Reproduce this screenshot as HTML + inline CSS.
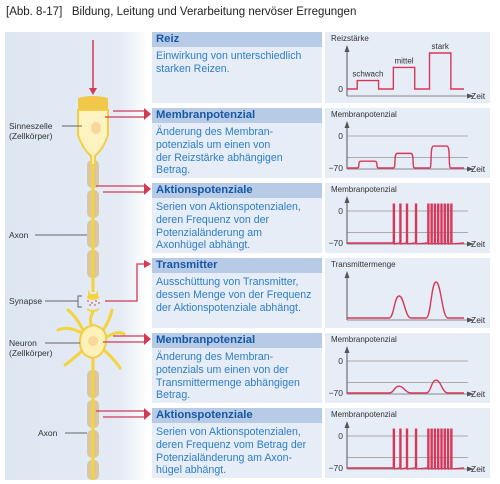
<!DOCTYPE html>
<html><head><meta charset="utf-8">
<style>
body{margin:0;background:#fff;font-family:"Liberation Sans",sans-serif;}
#wrap{position:relative;width:500px;height:484px;overflow:hidden;}
.title{position:absolute;left:6px;top:6px;font-size:11.5px;color:#222;}
.box{position:absolute;left:152px;width:170px;background:#e6edf7;}
.hd{background:#b8cbe6;color:#1558a6;font-weight:bold;font-size:11.3px;padding:1px 4px;height:13px;line-height:13px;}
.tx{color:#2d7ec8;font-size:10.6px;line-height:12.8px;padding:3px 4px;white-space:nowrap;}
.lbl{position:absolute;font-size:8.5px;color:#333;line-height:10px;}
</style></head><body>
<div id="wrap">
<div class="title">[Abb. 8-17]&nbsp;&nbsp; Bildung, Leitung und Verarbeitung nervöser Erregungen</div>
<svg width="500" height="484" style="position:absolute;left:0;top:0">
<defs><linearGradient id="lg" x1="0" x2="1"><stop offset="0" stop-color="#dde6f2"/><stop offset="0.8" stop-color="#e4ebf5"/><stop offset="1" stop-color="#fff"/></linearGradient></defs>
<rect x="5" y="32" width="143" height="448" fill="url(#lg)"/>
<g fill="#d8c6a4">
<rect x="87" y="160" width="12" height="28" rx="5"/><rect x="87" y="190" width="12" height="28" rx="5"/><rect x="87" y="220" width="12" height="28" rx="5"/><rect x="87" y="250" width="12" height="28" rx="5"/>
<rect x="87" y="370" width="12" height="28" rx="5"/><rect x="87" y="400" width="12" height="28" rx="5"/><rect x="87" y="430" width="12" height="28" rx="5"/><rect x="87" y="460" width="12" height="20" rx="5"/>
</g>
<line x1="93" y1="140" x2="93" y2="292" stroke="#f5d33a" stroke-width="3"/>
<line x1="93" y1="345" x2="93" y2="480" stroke="#f5d33a" stroke-width="3"/>
<path d="M78 98 Q93 94 108 98 L108 112 L78 112Z" fill="#f2c84a"/>
<path d="M78 110 L108 110 L108 135 Q104 148 95 156 L95 165 L91 165 L91 156 Q82 148 78 135Z" fill="#fdf3c0" stroke="#f3cd45" stroke-width="2"/>
<ellipse cx="96" cy="128" rx="5" ry="6" fill="#f9d79a"/>
<line x1="93" y1="40" x2="93" y2="92" stroke="#d33a55" stroke-width="1.5"/>
<path d="M89 88 L97 88 L93 95Z" fill="#d33a55"/>
<path d="M88 290 Q93 300 98 290 L98 295 Q93 303 88 295Z" fill="#f5d33a"/>
<ellipse cx="93" cy="297" rx="6" ry="3" fill="#f5d33a"/>
<g fill="#e07a8a"><circle cx="88" cy="301" r="1"/><circle cx="92" cy="303" r="1"/><circle cx="96" cy="301" r="1"/><circle cx="99" cy="303" r="1"/><circle cx="90" cy="305" r="1"/><circle cx="95" cy="305" r="1"/></g>
<path d="M87 308 Q93 312 99 308 L99 310 Q93 314 87 310Z" fill="#f5d33a"/>
<g stroke="#f5d33a" stroke-width="3" fill="none" stroke-linecap="round">
<path d="M93 312 Q88 320 93 330"/><path d="M85 335 Q70 325 58 330"/><path d="M83 330 Q75 315 68 310"/><path d="M102 332 Q110 320 112 310"/><path d="M105 338 Q118 330 124 334"/><path d="M104 350 Q115 360 120 368"/><path d="M83 350 Q72 360 65 365"/>
</g>
<path d="M93 325 Q108 328 106 342 Q104 356 93 358 Q80 356 80 342 Q80 328 93 325Z" fill="#fdf0b8" stroke="#f3cd45" stroke-width="2"/>
<circle cx="93" cy="341" r="5" fill="#f9d79a"/>
<g stroke="#666" stroke-width="1" fill="none">
<line x1="62" y1="126" x2="82" y2="126"/><line x1="35" y1="235" x2="87" y2="235"/><line x1="45" y1="301" x2="78" y2="301"/><path d="M82 296 L78 296 L78 307 L82 307"/><line x1="45" y1="343" x2="80" y2="343"/><line x1="65" y1="433" x2="87" y2="433"/>
</g>
<g stroke="#d33a55" stroke-width="1.3" fill="none">
<path d="M113 111 L145 111"/><path d="M105 117 L145 117"/>
<path d="M96 186 L145 186"/><path d="M103 192 L145 192"/>
<path d="M105 301 L137 301 L137 264 L145 264"/>
<path d="M113 336 L145 336"/><path d="M103 342 L145 342"/>
<path d="M96 411 L145 411"/><path d="M103 417 L145 417"/>
</g>
<g fill="#d33a55"><path d="M144 108 L151 114 L144 120Z"/><path d="M144 183 L151 189 L144 195Z"/><path d="M144 260 L151 264 L144 268Z"/><path d="M144 333 L151 339 L144 345Z"/><path d="M144 408 L151 414 L144 420Z"/></g>
<g id="charts"></g>
</svg>
<div class="lbl" style="left:9px;top:121px">Sinneszelle<br>(Zellkörper)</div>
<div class="lbl" style="left:9px;top:230px">Axon</div>
<div class="lbl" style="left:9px;top:296px">Synapse</div>
<div class="lbl" style="left:9px;top:338px">Neuron<br>(Zellkörper)</div>
<div class="lbl" style="left:38px;top:428px">Axon</div>

<div class="box" style="top:32px;height:71px"><div class="hd">Reiz</div><div class="tx">Einwirkung von unterschiedlich<br>starken Reizen.</div></div>
<div class="box" style="top:108px;height:70px"><div class="hd">Membranpotenzial</div><div class="tx">Änderung des Membran-<br>potenzials um einen von<br>der Reizstärke abhängigen<br>Betrag.</div></div>
<div class="box" style="top:183px;height:70px"><div class="hd">Aktionspotenziale</div><div class="tx">Serien von Aktionspotenzialen,<br>deren Frequenz von der<br>Potenzialänderung am<br>Axonhügel abhängt.</div></div>
<div class="box" style="top:258px;height:70px"><div class="hd">Transmitter</div><div class="tx">Ausschüttung von Transmitter,<br>dessen Menge von der Frequenz<br>der Aktionspotenziale abhängt.</div></div>
<div class="box" style="top:333px;height:70px"><div class="hd">Membranpotenzial</div><div class="tx">Änderung des Membran-<br>potenzials um einen von der<br>Transmittermenge abhängigen<br>Betrag.</div></div>
<div class="box" style="top:408px;height:70px"><div class="hd">Aktionspotenziale</div><div class="tx">Serien von Aktionspotenzialen,<br>deren Frequenz vom Betrag der<br>Potenzialänderung am Axon-<br>hügel abhängt.</div></div>
</div>
<script>
const stimulusLabels = ["schwach","mittel","stark"];
const stimulusLevels = [0.7, 1.8, 3];
const stimulusStart = [0.5, 2.7, 4.9];
const potLevels1 = [-55, -38, -22];
const spikeTimes = [2.7, 3.1, 3.5, 4.05, 4.8, 5.0, 5.2, 5.4, 5.6, 5.8, 6.0, 6.2];
const transmitterPeaks = [3.05, 5.3];
const transmitterAmounts = [22, 36];
const potPeaks2 = [-55, -42];
const tickLabels = ["0", "-70"];

const NS = "http://www.w3.org/2000/svg";
const g = document.getElementById("charts");
const tops = [32,108,183,258,333,408];
const X0 = 347, X1 = 468;
function xs(t){ return 349 + t/7*115; }
function mk(tag, attrs, parent){ const e=document.createElementNS(NS,tag); for(const k in attrs) e.setAttribute(k,attrs[k]); (parent||g).appendChild(e); return e; }
function txt(x,y,s,anchor,size){ const e=mk("text",{x:x,y:y,"font-size":size||8.5,fill:"#333","font-family":"Liberation Sans, sans-serif","text-anchor":anchor||"start"}); e.textContent=s; return e; }

tops.forEach((top,i)=>{
  const p = mk("rect",{x:325,y:top,width:165,height:i==0?71:70,fill:"#e6edf7"});
  
  
  const titles=["Reizstärke","Membranpotenzial","Membranpotenzial","Transmittermenge","Membranpotenzial","Membranpotenzial"];
  const t = txt(331, top+9, titles[i]); t.setAttribute("font-size","8");
  const axisY = i==0? top+64 : (i==3? top+62 : top+61);
  const isPot = (i==1||i==2||i==4||i==5);
  const y0 = top+28, y70 = top+60;
  const ys = v => y70 - (v+70)/70*(y70-y0);
  if(isPot){
    [0,-47].forEach(v=>mk("line",{x1:X0,x2:X1,y1:ys(v),y2:ys(v),stroke:"#aaa","stroke-width":1}));
    txt(343, ys(0)+3, tickLabels[0], "end");
    txt(343, ys(-70)+3, tickLabels[1].replace("-","−"), "end");
  }
  mk("line",{x1:X0,x2:X0,y1:top+16,y2:axisY,stroke:"#555","stroke-width":1});
  mk("path",{d:`M${X0-2.5} ${top+20} L${X0} ${top+13} L${X0+2.5} ${top+20}Z`,fill:"#555"});
  mk("line",{x1:X0,x2:X1,y1:axisY,y2:axisY,stroke:"#888","stroke-width":1});
  mk("path",{d:`M${X1-1} ${axisY-2.5} L${X1+6} ${axisY} L${X1-1} ${axisY+2.5}Z`,fill:"#555"});
  txt(471, axisY+3, "Zeit");
  let d="";
  if(i==0){
    const yb = top+57, ysc = v=>yb - v*12;
    txt(343, yb+3, "0", "end");
    d=`M${X0} ${yb}`;
    stimulusLevels.forEach((v,k)=>{ const a=xs(stimulusStart[k]), b=xs(stimulusStart[k]+1.3);
      d+=` L${a} ${yb} L${a} ${ysc(v)} L${b} ${ysc(v)} L${b} ${yb}`;
      txt((a+b)/2, ysc(v)-4, stimulusLabels[k], "middle", 8); });
    d+=` L${xs(7)} ${yb}`;
  } else if(i==1){
    d=`M${X0} ${ys(-70)}`;
    potLevels1.forEach((v,k)=>{ const a=xs(stimulusStart[k]), b=xs(stimulusStart[k]+1.3);
      d+=` L${a} ${ys(-70)} C${a+3} ${ys(-70)} ${a} ${ys(v)} ${a+4} ${ys(v)} L${b-4} ${ys(v)} C${b} ${ys(v)} ${b-3} ${ys(-70)} ${b} ${ys(-70)}`; });
    d+=` L${xs(7)} ${ys(-70)}`;
  } else if(i==2||i==5){
    d=`M${X0} ${ys(-70)}`;
    spikeTimes.forEach(t=>{ const x=xs(t); d+=` L${x} ${ys(-70)} L${x} ${ys(15)} L${x+1} ${ys(15)} L${x+1} ${ys(-72)}`; });
    d+=` L${xs(7)} ${ys(-70)}`;
  } else if(i==3){
    const yb=top+60;
    d=`M${X0} ${yb}`;
    transmitterPeaks.forEach((t,k)=>{ const x=xs(t), h=transmitterAmounts[k];
      d+=` L${x-10} ${yb} C${x-5} ${yb} ${x-5} ${yb-h} ${x} ${yb-h} C${x+5} ${yb-h} ${x+6} ${yb} ${x+12} ${yb}`; });
    d+=` L${xs(7)} ${yb}`;
  } else {
    d=`M${X0} ${ys(-70)}`;
    potPeaks2.forEach((v,k)=>{ const x=xs(transmitterPeaks[k]);
      d+=` L${x-10} ${ys(-70)} C${x-5} ${ys(-70)} ${x-5} ${ys(v)} ${x} ${ys(v)} C${x+5} ${ys(v)} ${x+6} ${ys(-70)} ${x+12} ${ys(-70)}`; });
    d+=` L${xs(7)} ${ys(-70)}`;
  }
  const line = mk("path",{d:d,fill:"none",stroke:"#d9375a","stroke-width":1.4});
  
  
});
</script>
</body></html>
